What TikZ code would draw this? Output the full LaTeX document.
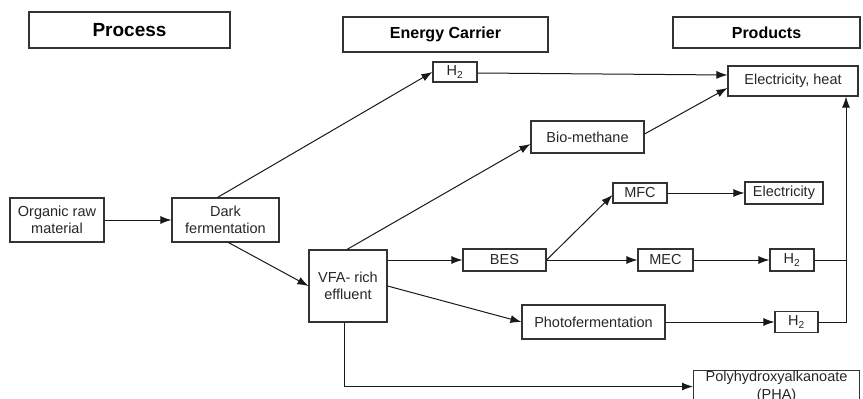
\documentclass[tikz,border=0pt]{standalone}
\usepackage{fontspec}
\setmainfont{Liberation Sans}
\usetikzlibrary{arrows.meta,calc}
\begin{document}
\begin{tikzpicture}[x=1pt,y=-1pt,
  bx/.style={draw=black!80,line width=1.1pt,inner sep=0pt,align=center,text=black!85,
    font=\fontsize{14.5}{17.5}\selectfont},
  hd/.style={bx,font=\bfseries\fontsize{16}{18}\selectfont,text=black},
  arr/.style={draw=black!90,line width=1pt,-{Latex[length=11pt,width=8pt]}},
  ln/.style={draw=black!90,line width=1pt}]
\useasboundingbox (0,0) rectangle (863,399);
% headers
\node[hd,minimum width=201pt,minimum height=36pt,font=\bfseries\fontsize{19}{21}\selectfont] (proc) at (129.5,30) {Process};
\node[hd,minimum width=205pt,minimum height=35pt] (ecar) at (445.5,34.5) {Energy Carrier};
\node[hd,minimum width=187pt,minimum height=31pt] (prod) at (766.5,32.5) {Products};
% nodes
\node[bx,minimum width=44pt,minimum height=20pt] (h2a) at (455,72) {H\textsubscript{2}};
\node[bx,minimum width=130pt,minimum height=30pt] (elh) at (793,81) {Electricity, heat};
\node[bx,minimum width=113pt,minimum height=32pt] (bio) at (587.5,137) {Bio-methane};
\node[bx,minimum width=94pt,minimum height=44pt] (org) at (57,220) {Organic raw\\material};
\node[bx,minimum width=107pt,minimum height=44pt] (dark) at (225.5,220) {Dark\\fermentation};
\node[bx,minimum width=78pt,minimum height=72pt] (vfa) at (348,286) {VFA- rich\\effluent};
\node[bx,minimum width=83pt,minimum height=22pt] (bes) at (504.5,260) {BES};
\node[bx,minimum width=54pt,minimum height=20pt] (mfc) at (640,193) {MFC};
\node[bx,minimum width=78pt,minimum height=22pt] (ele) at (784,193) {Electricity};
\node[bx,minimum width=55pt,minimum height=22pt] (mec) at (665.5,260) {MEC};
\node[bx,minimum width=44pt,minimum height=22pt] (h2b) at (792,260) {H\textsubscript{2}};
\node[bx,minimum width=143pt,minimum height=34pt] (pho) at (593.5,322) {Photofermentation};
\node[bx,minimum width=43pt,minimum height=21pt] (h2c) at (796.5,322) {H\textsubscript{2}};
\node[bx,minimum width=166pt,minimum height=32pt,anchor=north west] (pha) at (693,370) {Polyhydroxyalkanoate\\(PHA)};
\coordinate (jx) at (846,0);
% connectors
\draw[arr] (org.east) -- (dark.west);
\draw[arr] ([xshift=-8pt]dark.north) -- (h2a.west);
\draw[arr] ([xshift=3pt]dark.south) -- (vfa.west);
\draw[arr] ([xshift=-1pt]vfa.north) -- ([yshift=-7pt]bio.west);
\draw[arr] ([yshift=-1pt]h2a.east) -- ([yshift=6pt]elh.west);
\draw[arr] ([yshift=3pt]bio.east) -- ([yshift=-7pt]elh.west);
\draw[arr] (vfa.east |- bes.west) -- (bes.west);
\draw[arr] (vfa.east) -- (pho.west);
\draw[arr] (bes.east) -- ([yshift=-2pt]mfc.west);
\draw[arr] (bes.east) -- (mec.west);
\draw[arr] (mfc.east) -- (mfc.east -| ele.west);
\draw[arr] (mec.east) -- (h2b.west);
\draw[arr] (pho.east) -- (h2c.west);
\draw[arr] (h2c.east) -| (jx |- elh.south);
\draw[ln] (h2b.east) -- (h2b.east -| jx);
\draw[arr] ([xshift=-4pt]vfa.south) |- (pha.west);
\end{tikzpicture}
\end{document}
